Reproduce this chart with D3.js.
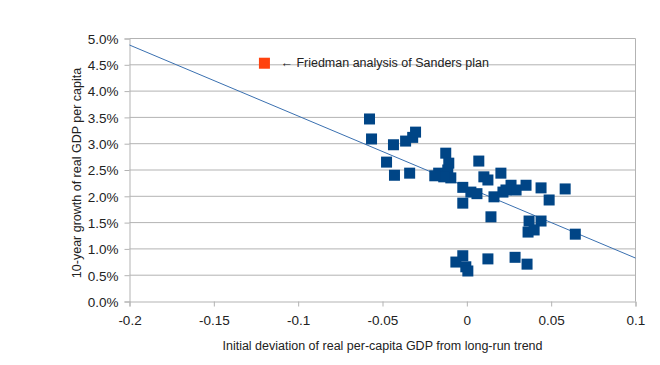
<!DOCTYPE html>
<html><head><meta charset="utf-8">
<script src="https://cdn.jsdelivr.net/npm/d3@7"></script>
<style>body{margin:0;background:#fff;}svg{display:block;font-family:"Liberation Sans",Arial,sans-serif;}</style>
</head><body><svg id="c" width="660" height="365"></svg>
<script>
const deviation = [-0.0577,-0.0565,-0.0476,-0.0435,-0.0429,-0.0363,-0.0339,-0.0321,-0.0304,-0.0125,-0.0107,-0.0167,-0.0113,-0.0095,-0.0137,-0.0190,-0.0024,0.0024,-0.0024,0.0071,0.0101,0.0125,0.0202,0.0161,0.0214,0.0262,0.0292,0.0232,0.0351,0.0440,0.0488,0.0583,0.0143,0.0369,0.0440,0.0363,0.0399,0.0643,-0.0024,-0.0065,-0.0006,0.0006,0.0125,0.0286,0.0357,0.0060];
const growth = [3.47,3.09,2.65,2.98,2.40,3.05,2.44,3.12,3.22,2.82,2.63,2.44,2.50,2.35,2.37,2.39,2.17,2.08,1.87,2.67,2.37,2.31,2.44,1.99,2.08,2.21,2.12,2.12,2.21,2.16,1.93,2.14,1.61,1.53,1.53,1.32,1.36,1.28,0.87,0.75,0.66,0.58,0.81,0.84,0.71,2.05];
const friedmanX = [-0.12];
const friedmanY = [4.53];
const trendX = [-0.2, 0.1];
const trendY = [4.876, 0.826];
const xTicks = [-0.2,-0.15,-0.1,-0.05,0,0.05,0.1];
const yTicks = [0,0.5,1,1.5,2,2.5,3,3.5,4,4.5,5];
const annotation = "\u2190 Friedman analysis of Sanders plan";

const svg = d3.select("#c");
const L=129.5, R=635.5, T=38.5, B=301.5;
const x = d3.scaleLinear().domain([-0.2,0.1]).range([L,R]);
const y = d3.scaleLinear().domain([0,5]).range([B,T]);
const grid="#b3b3b3";

// gridlines
svg.append("g").selectAll("line").data(yTicks.filter(d=>d>0)).join("line")
  .attr("x1",L).attr("x2",R).attr("y1",d=>y(d)).attr("y2",d=>y(d))
  .attr("stroke",grid).attr("stroke-width",1);
svg.append("line").attr("x1",R).attr("x2",R).attr("y1",T).attr("y2",B).attr("stroke",grid);

// axes
const yAxis = d3.axisLeft(y).tickValues(yTicks).tickSize(5).tickPadding(6)
  .tickFormat(d=>d3.format(".1f")(d)+"%");
const gy = svg.append("g").attr("transform",`translate(${L},0)`).call(yAxis);
const xAxis = d3.axisBottom(x).tickValues(xTicks).tickSize(5).tickPadding(6)
  .tickFormat(d=>d===0?"0":String(d).replace("0.","0."));
const gx = svg.append("g").attr("transform",`translate(0,${B})`).call(xAxis);
[gx,gy].forEach(g=>{
  g.select(".domain").attr("stroke",grid);
  g.selectAll(".tick line").attr("stroke",grid);
  g.selectAll("text").attr("fill","#222").style("font-size","13.5px").style("font-family",'"Liberation Sans",Arial,sans-serif');
});
gy.selectAll("text").attr("dy","0.36em");
gx.selectAll("text").attr("dy","0.95em");

// trend line
svg.append("path").datum(trendX.map((d,i)=>[d,trendY[i]]))
  .attr("d",d3.line().x(d=>x(d[0])).y(d=>y(d[1])))
  .attr("stroke","#3a70b0").attr("stroke-width",1).attr("fill","none");

// points
const s=11;
svg.append("g").selectAll("rect").data(deviation.map((d,i)=>[d,growth[i]])).join("rect")
  .attr("x",d=>x(d[0])-s/2).attr("y",d=>y(d[1])-s/2).attr("width",s).attr("height",s)
  .attr("fill","#004586");
svg.append("g").selectAll("rect").data(friedmanX.map((d,i)=>[d,friedmanY[i]])).join("rect")
  .attr("x",d=>x(d[0])-s/2).attr("y",d=>y(d[1])-s/2).attr("width",s).attr("height",s)
  .attr("fill","#ff420e");

svg.append("text").attr("x",x(friedmanX[0])+16).attr("y",y(friedmanY[0])+4)
  .style("font-size","12.5px").attr("fill","#222").text(annotation);

// axis titles
svg.append("text").attr("x",(L+R)/2).attr("y",350).attr("text-anchor","middle")
  .style("font-size","12.5px").attr("fill","#222").text("Initial deviation of real per-capita GDP from long-run trend");
svg.append("text").attr("transform",`translate(81,${(T+B)/2+3}) rotate(-90)`).attr("text-anchor","middle")
  .style("font-size","12.5px").attr("fill","#222").text("10-year growth of real GDP per capita");
</script></body></html>
